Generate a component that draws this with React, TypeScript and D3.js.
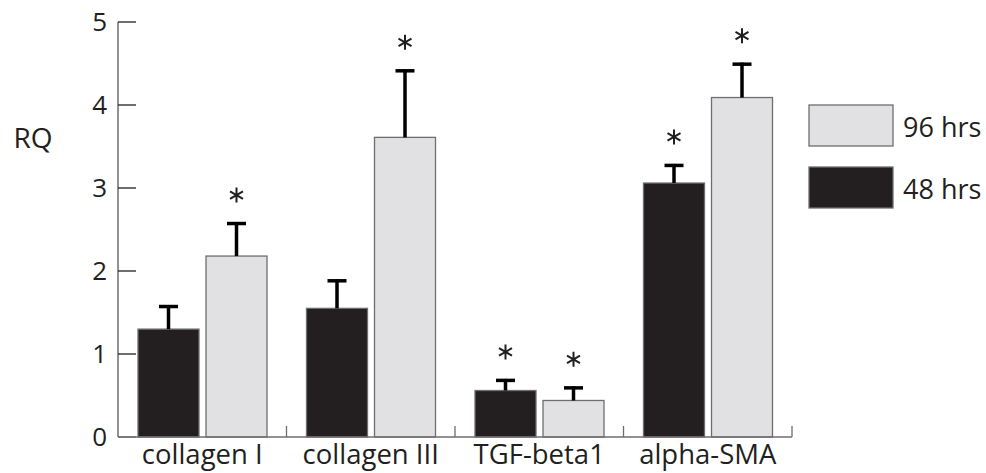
import React from "react";
import * as d3 from "d3";

const categories = ["collagen I", "collagen III", "TGF-beta1", "alpha-SMA"];
const seriesNames = ["48 hrs", "96 hrs"];
const values48 = [1.3, 1.55, 0.56, 3.06];
const values96 = [2.18, 3.61, 0.44, 4.09];
const errors48 = [0.29, 0.35, 0.14, 0.23];
const errors96 = [0.41, 0.82, 0.17, 0.42];
const signif48 = [false, false, true, true];
const signif96 = [true, true, true, true];
const yTicks = [0, 1, 2, 3, 4, 5];

const W = 986;
const H = 473;
const FONT = "'Open Sans', sans-serif";
const TEXT = "#231f20";
const AXIS = "#6d6e71";
const FILLS = ["#231f20", "#e1e1e3"];

function Asterisk({ cx, cy, r }: { cx: number; cy: number; r: number }) {
  const arms = [90, 30, -30].map((deg) => {
    const a = (deg * Math.PI) / 180;
    const dx = r * Math.cos(a);
    const dy = r * Math.sin(a);
    return `M${cx - dx},${cy - dy}L${cx + dx},${cy + dy}`;
  });
  return <path d={arms.join("")} stroke={TEXT} strokeWidth={2} fill="none" />;
}

export default function App() {
  const x0 = d3.scaleBand<string>().domain(categories).range([118, 792]).padding(0);
  const x1 = d3
    .scaleBand<string>()
    .domain(seriesNames)
    .range([20, 149])
    .paddingInner(7 / 68)
    .paddingOuter(0);
  const y = d3.scaleLinear().domain([0, 5]).range([437, 22]);

  const series = [
    { name: seriesNames[0], values: values48, errors: errors48, sig: signif48, fill: FILLS[0] },
    { name: seriesNames[1], values: values96, errors: errors96, sig: signif96, fill: FILLS[1] },
  ];

  const bw = x1.bandwidth();

  return (
    <svg width={W} height={H} style={{ position: "absolute", left: 0, top: 0 }}>
      <rect width={W} height={H} fill="#fff" />
      {/* y axis */}
      <line x1={118} x2={118} y1={y(5)} y2={y(0)} stroke={AXIS} strokeWidth={1.5} />
      {yTicks.map((t) => (
        <g key={t}>
          <line x1={118} x2={136} y1={y(t)} y2={y(t)} stroke={t === 0 ? AXIS : TEXT} strokeWidth={1.3} />
          <text
            x={107}
            y={y(t)}
            dy="0.36em"
            textAnchor="end"
            fontFamily={FONT}
            fontSize={26}
            fill={TEXT}
          >
            {t}
          </text>
        </g>
      ))}
      <text x={33} y={148} textAnchor="middle" fontFamily={FONT} fontSize={28} fill={TEXT}>
        RQ
      </text>

      {/* bars */}
      {categories.map((c, i) => (
        <g key={c} transform={`translate(${x0(c)},0)`}>
          {series.map((s) => {
            const bx = x1(s.name)!;
            const v = s.values[i];
            const top = y(v + s.errors[i]);
            const cx = bx + bw / 2;
            return (
              <g key={s.name}>
                <rect
                  x={bx}
                  y={y(v)}
                  width={bw}
                  height={y(0) - y(v)}
                  fill={s.fill}
                  stroke={AXIS}
                  strokeWidth={1.3}
                />
                <line x1={cx} x2={cx} y1={y(v)} y2={top} stroke="#000" strokeWidth={3.5} />
                <line x1={cx - 9.5} x2={cx + 9.5} y1={top + 1.5} y2={top + 1.5} stroke="#000" strokeWidth={3.5} />
                {s.sig[i] && <Asterisk cx={cx} cy={top - 27} r={7.5} />}
              </g>
            );
          })}
          <text
            x={x0.bandwidth() / 2}
            y={464}
            textAnchor="middle"
            fontFamily={FONT}
            fontSize={27.5}
            fill={TEXT}
          >
            {c}
          </text>
        </g>
      ))}

      {/* x axis */}
      <line x1={118} x2={792} y1={437} y2={437} stroke={AXIS} strokeWidth={1.5} />
      {categories.map((c) => (
        <line
          key={c}
          x1={x0(c)! + x0.bandwidth()}
          x2={x0(c)! + x0.bandwidth()}
          y1={437}
          y2={426}
          stroke={AXIS}
          strokeWidth={1.3}
        />
      ))}

      {/* legend */}
      {[
        { name: seriesNames[1], fill: FILLS[1], y0: 105 },
        { name: seriesNames[0], fill: FILLS[0], y0: 167 },
      ].map((l) => (
        <g key={l.name}>
          <rect x={809} y={l.y0} width={84} height={41} fill={l.fill} stroke={AXIS} strokeWidth={1.3} />
          <text x={903} y={l.y0 + 32} fontFamily={FONT} fontSize={27} fill={TEXT}>
            {l.name}
          </text>
        </g>
      ))}
    </svg>
  );
}
